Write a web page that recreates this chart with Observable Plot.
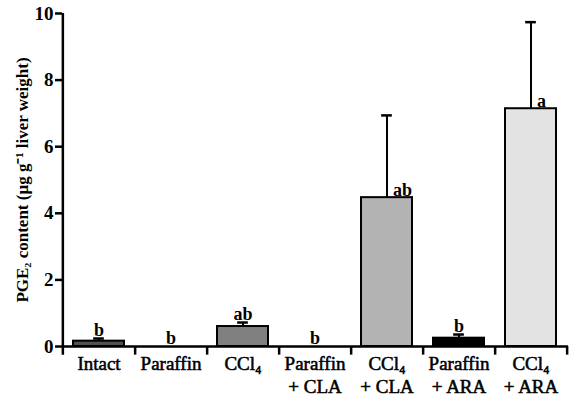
<!DOCTYPE html>
<html><head><meta charset="utf-8">
<script src="https://cdn.jsdelivr.net/npm/d3@7"></script>
<script src="https://cdn.jsdelivr.net/npm/@observablehq/plot@0.6"></script>
<style>
body{margin:0;background:#fff}
g[aria-label="x-axis tick label"] text { stroke: black; stroke-width: 0.55px; }
g[aria-label="y-axis label text"] text { stroke: black; stroke-width: 0.3px; }
</style>
</head><body><div id="chart"></div>
<script>
const categories = ["Intact","Paraffin","CCl₄","Paraffin\n+ CLA","CCl₄\n+ CLA","Paraffin\n+ ARA","CCl₄\n+ ARA"];
const means = [0.16, 0, 0.6, 0, 4.47, 0.25, 7.14];
const errors = [0.08, 0, 0.12, 0, 2.47, 0.11, 2.6];
const letters = ["b","b","ab","b","ab","b","a"];
const yTicks = [0,2,4,6,8,10];
const yLabel = "PGE₂ content (µg g⁻¹ liver weight)";
const fills = ["#525252","#ffffff","#808080","#ffffff","#b3b3b3","#000000","#e3e3e3"];

const W = 571, H = 396, mL = 62, mR = 3, mT = 13, mB = 50;
const padIn = 0.29;
const step = (W - mL - mR) / categories.length;
const bw = step * (1 - padIn);
const capW = 11;
const data = categories.map((c, i) => ({c, m: means[i], e: errors[i], l: letters[i]}));
const side = data.filter(d => d.e > 1), above = data.filter(d => d.e <= 1);
const font = "Liberation Serif";

const plot = Plot.plot({
  width: W, height: H, marginLeft: mL, marginRight: mR, marginTop: mT, marginBottom: mB,
  x: {domain: categories, paddingInner: padIn, paddingOuter: padIn / 2},
  y: {domain: [0, 10]},
  color: {domain: categories, range: fills},
  marks: [
    Plot.barY(data.filter(d => d.m > 0), {x: "c", y: "m", fill: "c", stroke: "black", strokeWidth: 2}),
    Plot.ruleX(data.filter(d => d.e > 0), {x: "c", y1: "m", y2: d => d.m + d.e, strokeWidth: 2}),
    Plot.tickY(data.filter(d => d.e > 0), {x: "c", y: d => d.m + d.e, strokeWidth: 2.5,
      insetLeft: (bw - capW) / 2, insetRight: (bw - capW) / 2}),
    Plot.ruleY([0], {strokeWidth: 2.5}),
    Plot.ruleX([categories[0]], {dx: -step / 2, y1: -0.26, y2: 10, strokeWidth: 2.5}),
    Plot.ruleX(categories, {dx: step / 2, y1: -0.26, y2: 0, strokeWidth: 2.5}),
    Plot.axisY({ticks: yTicks, tickFormat: d => d, tickSize: 7, tickPadding: 2, strokeWidth: 2.5, stroke: "black",
      fontSize: 19, fontWeight: "bold", fontFamily: font, label: null}),
    Plot.axisX({tickSize: 0, tickPadding: 6, fontSize: 19, lineHeight: 1.26, fontFamily: font, label: null}),
    Plot.text(above, {x: "c", y: d => d.m + d.e, text: "l", lineAnchor: "bottom", dy: -3,
      fontSize: 18, fontWeight: "bold", fontFamily: font}),
    Plot.text(side, {x: "c", y: "m", text: "l", textAnchor: "start", lineAnchor: "bottom", dx: 6, dy: -2,
      fontSize: 18, fontWeight: "bold", fontFamily: font}),
    Plot.text([yLabel], {frameAnchor: "left", rotate: -90, dx: -40, textAnchor: "middle", lineAnchor: "middle",
      fontSize: 17, fontWeight: "bold", fontFamily: font, ariaLabel: "y-axis label text"})
  ]
});
document.getElementById("chart").append(plot);
</script>
</body></html>
